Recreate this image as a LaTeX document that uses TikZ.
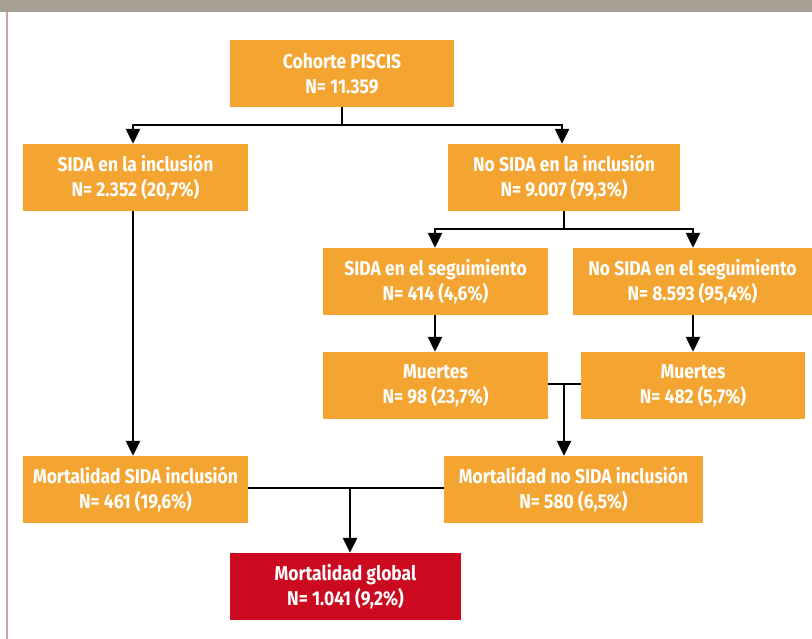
\documentclass[tikz,border=0pt]{standalone}
\usepackage{fontspec}
\setmainfont[FakeStretch=0.875]{Fira Sans}
\usetikzlibrary{arrows.meta}
\definecolor{boxorange}{HTML}{F4A531}
\definecolor{boxred}{HTML}{CC0A1F}
\definecolor{headgrey}{HTML}{A69F94}
\definecolor{edgepink}{HTML}{D3A3A6}
\begin{document}
\begin{tikzpicture}[x=1pt,y=-1pt,
  box/.style={fill=boxorange,text=white,align=center,inner sep=0pt,
    minimum height=67pt,font=\fontsize{20}{25}\selectfont\bfseries},
  redbox/.style={box,fill=boxred},
  conn/.style={line width=2.4pt,black},
  arr/.style={conn,-{Triangle[length=15pt,width=14pt]}}]
\useasboundingbox (0,0) rectangle (812,639);
\fill[white] (0,0) rectangle (812,639);
\fill[headgrey] (0,0) rectangle (812,12);
\draw[edgepink,line width=1.5pt] (7,12) -- (7,639);
% nodes
\node[box,minimum width=224pt] (coh) at (342,73.5) {Cohorte PISCIS\\N= 11.359};
\node[box,minimum width=225pt] (sida) at (135.5,177.5) {SIDA en la inclusión\\N= 2.352 (20,7\%)};
\node[box,minimum width=232pt] (nosida) at (564,177.5) {No SIDA en la inclusión\\N= 9.007 (79,3\%)};
\node[box,minimum width=225pt] (sseg) at (435.5,281.5) {SIDA en el seguimiento\\N= 414 (4,6\%)};
\node[box,minimum width=239pt] (nsseg) at (692.5,281.5) {No SIDA en el seguimiento\\N= 8.593 (95,4\%)};
\node[box,minimum width=225pt] (m1) at (435.5,385.5) {Muertes\\N= 98 (23,7\%)};
\node[box,minimum width=224pt] (m2) at (693,385.5) {Muertes\\N= 482 (5,7\%)};
\node[box,minimum width=225pt] (msida) at (135.5,489.5) {Mortalidad SIDA inclusión\\N= 461 (19,6\%)};
\node[box,minimum width=259pt] (mnosida) at (573.5,489.5) {Mortalidad no SIDA inclusión\\N= 580 (6,5\%)};
\node[redbox,minimum width=231pt] (mglob) at (345.5,586.5) {Mortalidad global\\N= 1.041 (9,2\%)};
% junction coordinates
\coordinate (j1) at (342,125);
\coordinate (j1l) at (133,125);
\coordinate (j1r) at (562,125);
\coordinate (j2) at (564,229);
\coordinate (j2l) at (435,229);
\coordinate (j2r) at (693,229);
\coordinate (j3) at (564,384);
\coordinate (j4) at (350,488);
% connectors
\draw[conn] (coh.south -| j1) -- (j1);
\draw[arr] (j1) -- (j1l) -- (sida.north -| j1l);
\draw[arr] (j1) -- (j1r) -- (nosida.north -| j1r);
\draw[arr] (sida.south -| j1l) -- (msida.north -| j1l);
\draw[conn] (nosida.south -| j2) -- (j2);
\draw[arr] (j2) -- (j2l) -- (sseg.north -| j2l);
\draw[arr] (j2) -- (j2r) -- (nsseg.north -| j2r);
\draw[arr] (sseg.south -| j2l) -- (m1.north -| j2l);
\draw[arr] (nsseg.south -| j2r) -- (m2.north -| j2r);
\draw[conn] (m1.east |- j3) -- (m2.west |- j3);
\draw[arr] (j3) -- (mnosida.north -| j3);
\draw[conn] (msida.east |- j4) -- (mnosida.west |- j4);
\draw[arr] (j4) -- (mglob.north -| j4);
\end{tikzpicture}
\end{document}
